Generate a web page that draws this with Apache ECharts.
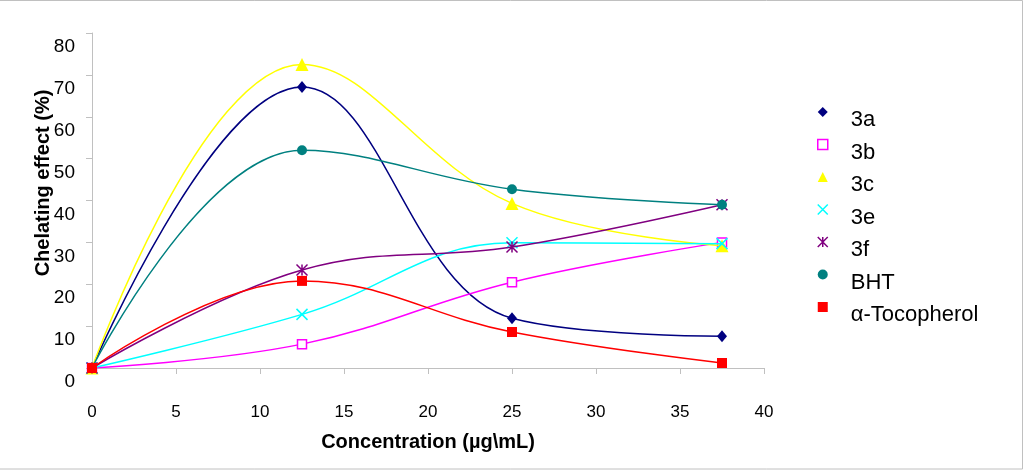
<!DOCTYPE html>
<html><head><meta charset="utf-8">
<script src="https://cdn.jsdelivr.net/npm/echarts@6/dist/echarts.min.js"></script>
<style>html,body{margin:0;padding:0;background:#fff}#c{width:1024px;height:470px}</style>
</head><body><div id="c"></div>
<script>
// ---- data ----
const concentrations = [0, 12.5, 25, 37.5];
const s3a  = [0, 67.1, 11.9, 7.6];
const s3b  = [0, 5.7, 20.5, 30.0];
const s3c  = [0, 72.5, 39.3, 29.2];
const s3e  = [0, 12.8, 29.9, 29.7];
const s3f  = [0, 23.4, 28.9, 39.0];
const sBHT = [0, 52.0, 42.7, 39.0];
const sToc = [0, 20.8, 8.6, 1.2];
const seriesNames = ['3a', '3b', '3c', '3e', '3f', 'BHT', 'α-Tocopherol'];
const seriesValues = [s3a, s3b, s3c, s3e, s3f, sBHT, sToc];
const xTickLabels = ['0', '5', '10', '15', '20', '25', '30', '35', '40'];
const yTickLabels = ['0', '10', '20', '30', '40', '50', '60', '70', '80'];
const xTitle = 'Concentration (µg\\mL)';
const yTitle = 'Chelating effect (%)';

// ---- styles ----
const FONT = 'Liberation Sans, Arial, sans-serif';
const colors = ['#000080', '#ff00ff', '#ffff00', '#00ffff', '#800080', '#008080', '#ff0000'];
const XPATH = 'path://M0,0L10,10M10,0L0,10';
const STAR = 'path://M0,0L10,10M10,0L0,10M5,0L5,10';
const symbols = ['diamond', 'rect', 'triangle', XPATH, STAR, 'circle', 'rect'];
const sizes = [[10, 12], 9, 13, 11, 11, 10, 10];
const fills = ['#000080', '#ffffff', '#ffff00', '#00ffff', '#800080', '#008080', '#ff0000'];
const borderW = [0, 1.5, 0, 1.5, 1.5, 0, 0];

const xStep = Number(xTickLabels[1]) - Number(xTickLabels[0]);
const yStep = Number(yTickLabels[1]) - Number(yTickLabels[0]);

const series = seriesNames.map((n, i) => ({
  name: n,
  type: 'line',
  smooth: 0.4,
  data: concentrations.map((x, j) => [x, seriesValues[i][j]]),
  symbol: symbols[i],
  symbolSize: sizes[i],
  showSymbol: true,
  color: colors[i],
  lineStyle: { color: colors[i], width: 1.5 },
  itemStyle: { color: fills[i], borderColor: colors[i], borderWidth: borderW[i] },
  emphasis: { disabled: true },
  z: 2 + i
}));

const chart = echarts.init(document.getElementById('c'), null, { renderer: 'canvas' });
chart.setOption({
  animation: false,
  backgroundColor: '#ffffff',
  grid: { left: 92, right: 260, top: 33, bottom: 102, containLabel: false },
  xAxis: {
    type: 'value',
    min: Number(xTickLabels[0]),
    max: Number(xTickLabels[xTickLabels.length - 1]),
    interval: xStep,
    axisLine: { show: true, lineStyle: { color: '#c0c0c0', width: 1 } },
    axisTick: { show: true, length: 6, lineStyle: { color: '#c0c0c0' } },
    splitLine: { show: false },
    axisLabel: { margin: 36, fontSize: 17, color: '#000', fontFamily: FONT },
    name: xTitle,
    nameLocation: 'middle',
    nameGap: 64,
    nameTextStyle: { fontSize: 20, fontWeight: 'bold', color: '#000', fontFamily: FONT }
  },
  yAxis: {
    type: 'value',
    min: Number(yTickLabels[0]),
    max: Number(yTickLabels[yTickLabels.length - 1]),
    interval: yStep,
    axisLine: { show: true, lineStyle: { color: '#c0c0c0', width: 1 } },
    axisTick: { show: true, length: 6, lineStyle: { color: '#c0c0c0' } },
    splitLine: { show: false },
    axisLabel: { margin: 17, fontSize: 19, color: '#000', fontFamily: FONT, verticalAlign: 'top', lineHeight: 28 }
  },
  legend: {
    orient: 'vertical',
    left: 817,
    top: 93,
    padding: 0,
    itemWidth: 10,
    itemHeight: 10,
    itemGap: -5.5,
    symbolKeepAspect: true,
    selectedMode: false,
    formatter: function (name) { return '{t|' + name + '}'; },
    textStyle: {
      fontSize: 22, color: '#000', fontFamily: FONT,
      rich: { t: { fontSize: 22, color: '#000', fontFamily: FONT, lineHeight: 22, padding: [16, 0, 0, 18] } }
    },
    data: seriesNames.map((n, i) => ({
      name: n,
      icon: symbols[i],
      itemStyle: { color: fills[i], borderColor: colors[i], borderWidth: borderW[i] }
    }))
  },
  graphic: [
    {
      type: 'text',
      x: 43, y: 183,
      rotation: Math.PI / 2,
      style: {
        text: yTitle,
        font: 'bold 20px ' + FONT,
        fill: '#000',
        align: 'center', verticalAlign: 'middle',
        textAlign: 'center', textVerticalAlign: 'middle'
      }
    },
    {
      type: 'rect',
      silent: true,
      shape: { x: -2, y: 0.5, width: 1024.5, height: 468.5 },
      style: { fill: 'none', stroke: '#c0c0c0', lineWidth: 1 }
    }
  ],
  series: series
});
</script>
</body></html>
